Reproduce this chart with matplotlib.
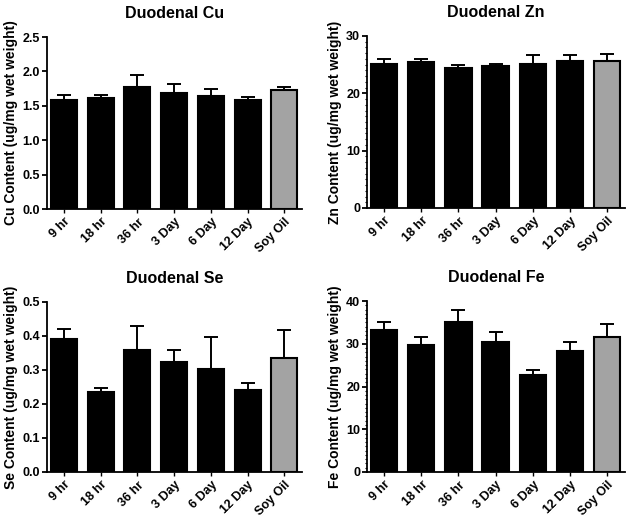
import matplotlib
matplotlib.use("Agg")
import matplotlib.pyplot as plt
from matplotlib.ticker import MultipleLocator, FormatStrFormatter

plt.rcParams['font.family'] = ['Liberation Sans', 'DejaVu Sans']
plt.rcParams['font.weight'] = 'bold'

categories = ["9 hr", "18 hr", "36 hr", "3 Day", "6 Day", "12 Day", "Soy Oil"]

cu_mean = [1.58, 1.61, 1.78, 1.69, 1.64, 1.59, 1.73]
cu_err = [0.07, 0.04, 0.17, 0.12, 0.10, 0.04, 0.05]

zn_mean = [25.1, 25.4, 24.5, 24.7, 25.2, 25.6, 25.7]
zn_err = [0.9, 0.6, 0.5, 0.35, 1.4, 1.1, 1.2]

se_mean = [0.390, 0.236, 0.360, 0.323, 0.303, 0.241, 0.335]
se_err = [0.030, 0.012, 0.068, 0.036, 0.093, 0.021, 0.084]

fe_mean = [33.2, 29.6, 35.0, 30.3, 22.8, 28.4, 31.5]
fe_err = [1.8, 2.0, 2.8, 2.4, 1.0, 2.0, 3.1]

colors = ["black"] * 6 + ["#a3a3a3"]

W, H = 629, 519
fig = plt.figure(figsize=(W / 100, H / 100), dpi=100)

panels = [
    (47, 37, 302, 209, "Duodenal Cu", "Cu Content (ug/mg wet weight)", cu_mean, cu_err, 2.5, 0.5, None, "%.1f"),
    (367, 36, 625, 208, "Duodenal Zn", "Zn Content (ug/mg wet weight)", zn_mean, zn_err, 30, 10, 1, "%d"),
    (47, 302, 302, 472, "Duodenal Se", "Se Content (ug/mg wet weight)", se_mean, se_err, 0.5, 0.1, None, "%.1f"),
    (367, 301, 625, 472, "Duodenal Fe", "Fe Content (ug/mg wet weight)", fe_mean, fe_err, 40, 10, 1, "%d"),
]

for (l, t, r, b, title, ylabel, means, errs, ymax, major, minor, fmt) in panels:
    ax = fig.add_axes([l / W, 1 - b / H, (r - l) / W, (b - t) / H])
    x = list(range(len(categories)))
    ax.bar(x, means, width=0.71, color=colors, edgecolor="black", linewidth=1.5, zorder=2)
    ax.errorbar(x, means, yerr=[[0] * len(errs), errs], fmt="none", ecolor="black",
                elinewidth=1.4, capsize=5, capthick=1.4, zorder=1)
    ax.set_xlim(-0.46, 6.48)
    ax.set_ylim(0, ymax)
    ax.yaxis.set_major_locator(MultipleLocator(major))
    ax.yaxis.set_major_formatter(FormatStrFormatter(fmt))
    if minor:
        ax.yaxis.set_minor_locator(MultipleLocator(minor))
        ax.tick_params(axis="y", which="minor", length=1.5, width=0.8)
    ax.spines["top"].set_visible(False)
    ax.spines["right"].set_visible(False)
    ax.spines["left"].set_linewidth(1.3)
    ax.spines["bottom"].set_linewidth(1.3)
    ax.set_xticks(x)
    ax.set_xticklabels(categories, rotation=45, ha="right", rotation_mode="anchor",
                       fontsize=9, fontweight="bold")
    ax.tick_params(axis="x", length=3, width=1.0, pad=2)
    ax.tick_params(axis="y", which="major", length=3.5, width=1.3, labelsize=9, pad=1.5)
    for lab in ax.get_yticklabels():
        lab.set_fontweight("bold")
    ax.set_title(title, fontsize=11.5, fontweight="bold", pad=14)
    ax.set_ylabel(ylabel, fontsize=10, fontweight="bold", labelpad=3)

fig.savefig("out.png", dpi=100)
